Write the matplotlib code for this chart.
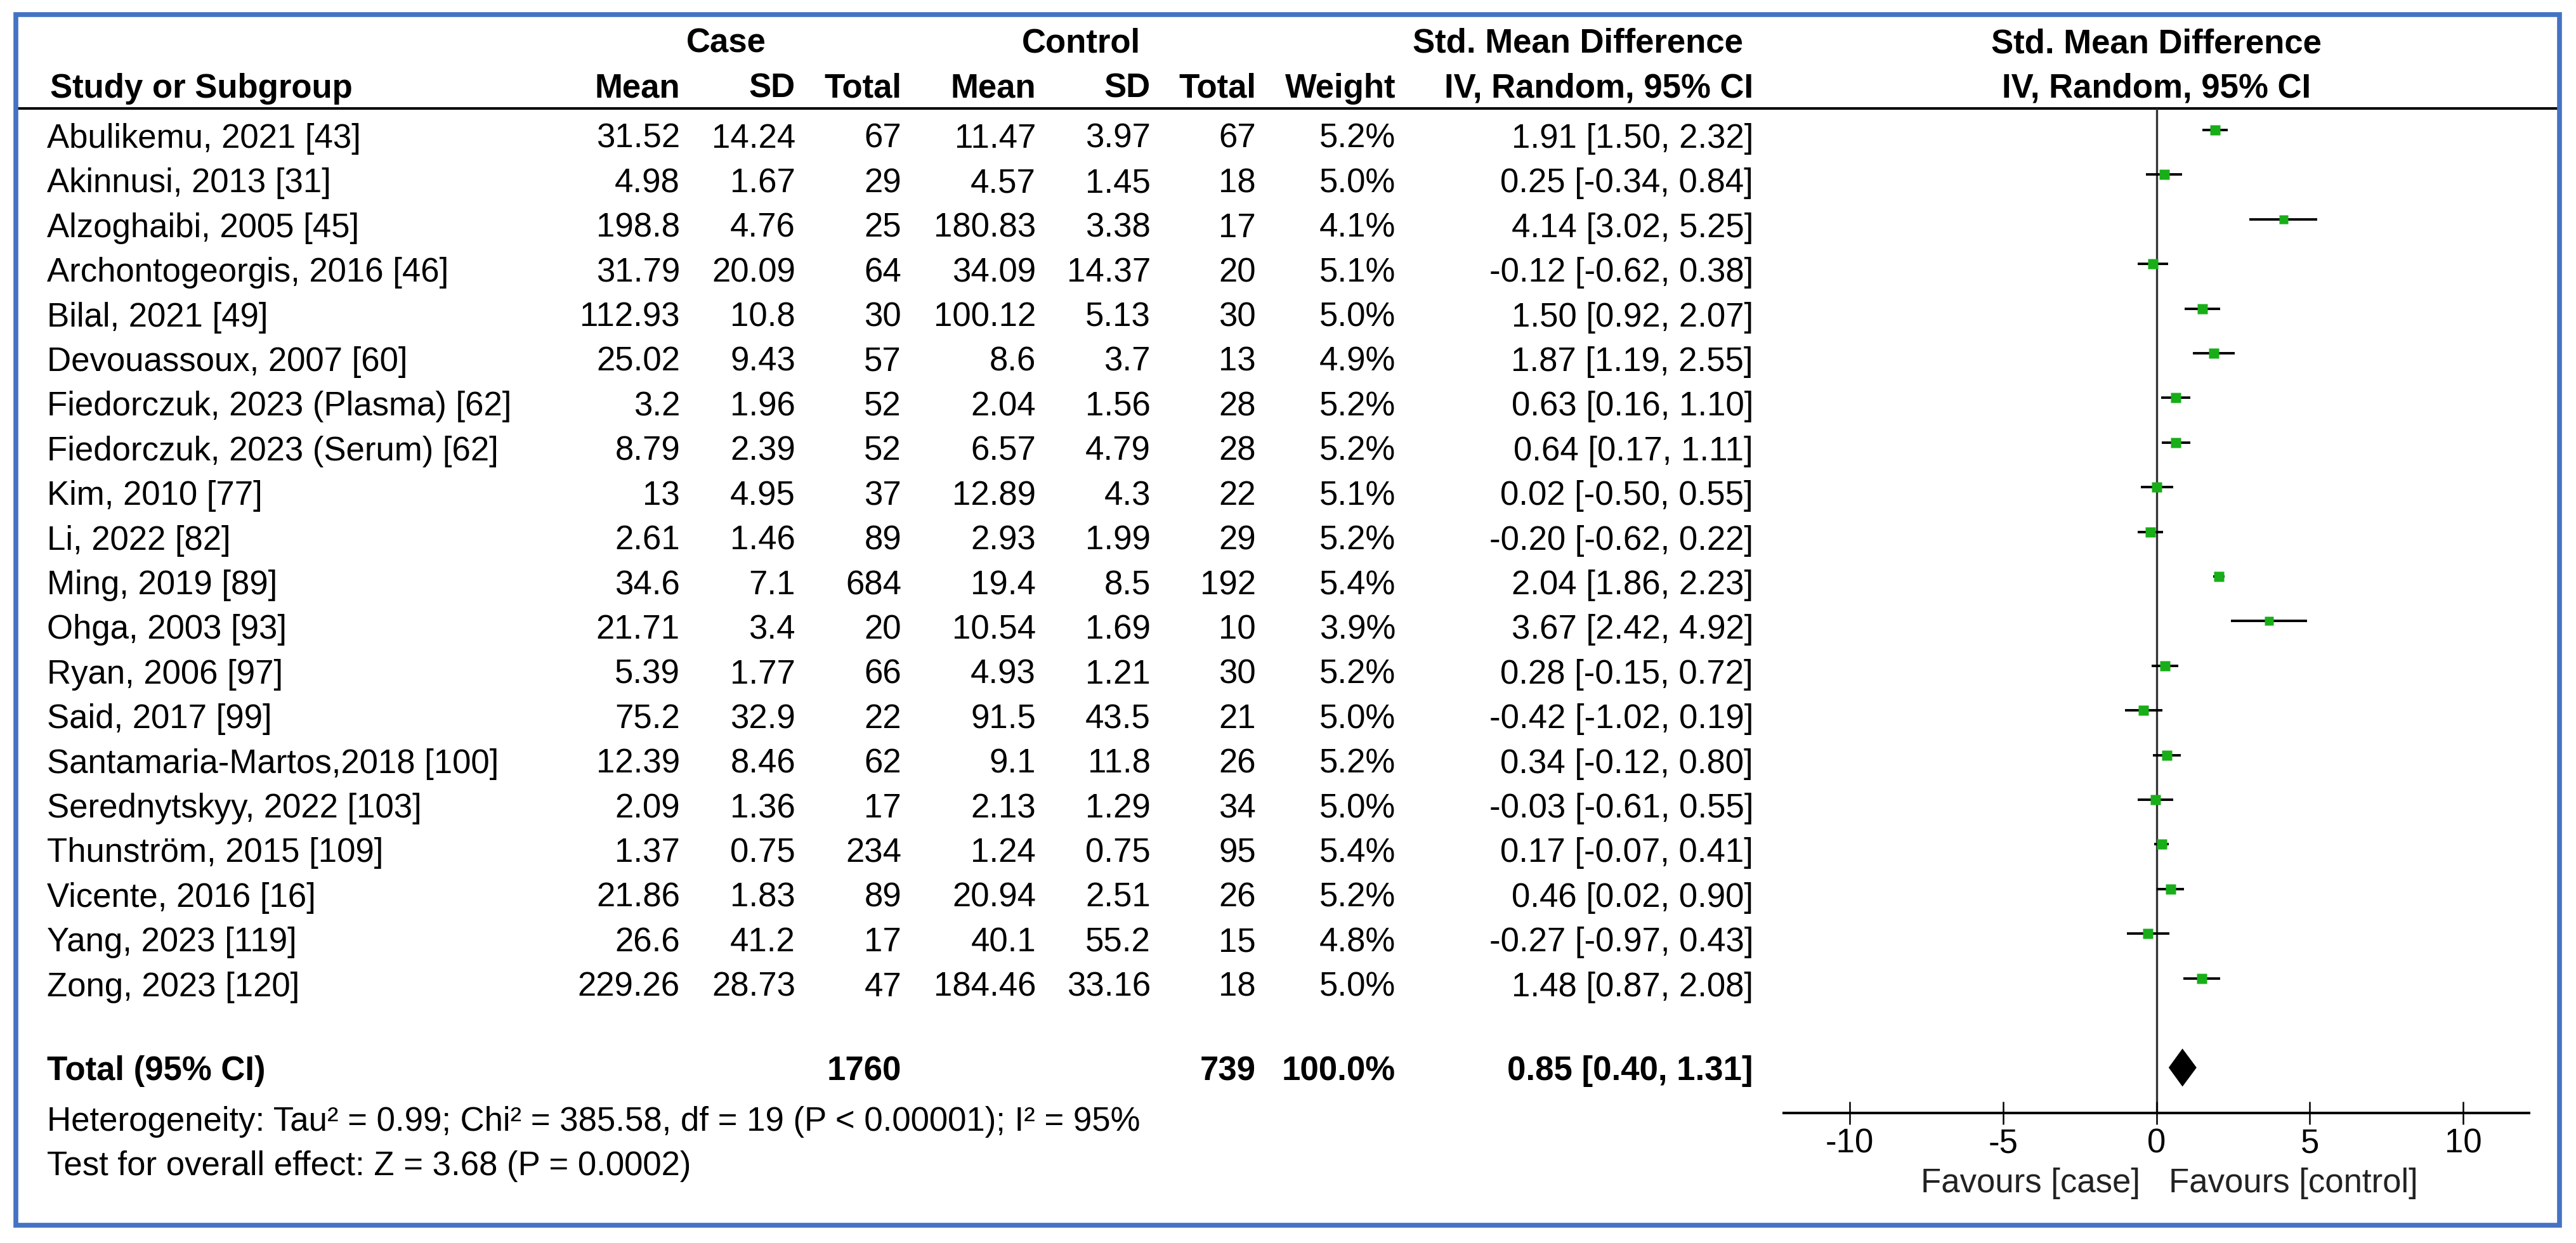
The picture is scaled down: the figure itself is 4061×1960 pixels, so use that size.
"""Forest plot: standardised mean difference, case vs control (RevMan style)."""

import math

import matplotlib.pyplot as plt
from matplotlib.patches import Rectangle

STUDIES = [
    "Abulikemu, 2021 [43]",
    "Akinnusi, 2013 [31]",
    "Alzoghaibi, 2005 [45]",
    "Archontogeorgis, 2016 [46]",
    "Bilal, 2021 [49]",
    "Devouassoux, 2007 [60]",
    "Fiedorczuk, 2023 (Plasma) [62]",
    "Fiedorczuk, 2023 (Serum) [62]",
    "Kim, 2010 [77]",
    "Li, 2022 [82]",
    "Ming, 2019 [89]",
    "Ohga, 2003 [93]",
    "Ryan, 2006 [97]",
    "Said, 2017 [99]",
    "Santamaria-Martos,2018 [100]",
    "Serednytskyy, 2022 [103]",
    "Thunström, 2015 [109]",
    "Vicente, 2016 [16]",
    "Yang, 2023 [119]",
    "Zong, 2023 [120]",
]
CASE_MEAN = ["31.52", "4.98", "198.8", "31.79", "112.93", "25.02", "3.2", "8.79", "13", "2.61",
             "34.6", "21.71", "5.39", "75.2", "12.39", "2.09", "1.37", "21.86", "26.6", "229.26"]
CASE_SD = ["14.24", "1.67", "4.76", "20.09", "10.8", "9.43", "1.96", "2.39", "4.95", "1.46",
           "7.1", "3.4", "1.77", "32.9", "8.46", "1.36", "0.75", "1.83", "41.2", "28.73"]
CASE_N = [67, 29, 25, 64, 30, 57, 52, 52, 37, 89, 684, 20, 66, 22, 62, 17, 234, 89, 17, 47]
CTRL_MEAN = ["11.47", "4.57", "180.83", "34.09", "100.12", "8.6", "2.04", "6.57", "12.89", "2.93",
             "19.4", "10.54", "4.93", "91.5", "9.1", "2.13", "1.24", "20.94", "40.1", "184.46"]
CTRL_SD = ["3.97", "1.45", "3.38", "14.37", "5.13", "3.7", "1.56", "4.79", "4.3", "1.99",
           "8.5", "1.69", "1.21", "43.5", "11.8", "1.29", "0.75", "2.51", "55.2", "33.16"]
CTRL_N = [67, 18, 17, 20, 30, 13, 28, 28, 22, 29, 192, 10, 30, 21, 26, 34, 95, 26, 15, 18]
WEIGHT = [5.2, 5.0, 4.1, 5.1, 5.0, 4.9, 5.2, 5.2, 5.1, 5.2, 5.4, 3.9, 5.2, 5.0, 5.2, 5.0, 5.4, 5.2, 4.8, 5.0]
SMD = [1.91, 0.25, 4.14, -0.12, 1.50, 1.87, 0.63, 0.64, 0.02, -0.20,
       2.04, 3.67, 0.28, -0.42, 0.34, -0.03, 0.17, 0.46, -0.27, 1.48]
CI_LO = [1.50, -0.34, 3.02, -0.62, 0.92, 1.19, 0.16, 0.17, -0.50, -0.62,
         1.86, 2.42, -0.15, -1.02, -0.12, -0.61, -0.07, 0.02, -0.97, 0.87]
CI_HI = [2.32, 0.84, 5.25, 0.38, 2.07, 2.55, 1.10, 1.11, 0.55, 0.22,
         2.23, 4.92, 0.72, 0.19, 0.80, 0.55, 0.41, 0.90, 0.43, 2.08]

TOTAL_WEIGHT = "100.0%"
POOLED = (0.85, 0.40, 1.31)
HETEROGENEITY = "Heterogeneity: Tau² = 0.99; Chi² = 385.58, df = 19 (P < 0.00001); I² = 95%"
OVERALL = "Test for overall effect: Z = 3.68 (P = 0.0002)"

X_TICKS = [-10, -5, 0, 5, 10]
X_TICK_LABELS = ["-10", "-5", "0", "5", "10"]

W, H = 4062, 1960
ROW0, ROW_H = 205, 70.4
FS = 38
BLUE = "#4472C4"
GREEN = "#18AE18"


def row_of(py):
    return (py - ROW0) / ROW_H


def main():
    plt.rcParams["font.family"] = ["Liberation Sans", "DejaVu Sans"]
    plt.rcParams["font.size"] = FS

    fig = plt.figure(figsize=(W / 100, H / 100), dpi=100)
    fig.patch.set_facecolor("white")

    # background axes: x in pixels, y in table rows
    tab = fig.add_axes([0, 0, 1, 1])
    tab.set_xlim(0, W)
    tab.set_ylim(row_of(H), row_of(0))
    tab.axis("off")

    tab.add_patch(Rectangle((25, row_of(23)), 4035 - 25, row_of(1932) - row_of(23),
                            fill=False, edgecolor=BLUE, linewidth=5.5, zorder=5))
    tab.plot([25, 4035], [row_of(171)] * 2, color="black", lw=2.9, solid_capstyle="butt")

    # header
    h1, h2 = row_of(83), row_of(154)
    bold = dict(fontweight="bold", va="baseline")
    tab.text(1145, h1, "Case", ha="center", **bold)
    tab.text(1704, h1, "Control", ha="center", **bold)
    tab.text(2487, h1, "Std. Mean Difference", ha="center", **bold)
    tab.text(79, h2, "Study or Subgroup", ha="left", **bold)
    col_x = [1072, 1254, 1421, 1633, 1814, 1980, 2200, 2764]
    col_names = ["Mean", "SD", "Total", "Mean", "SD", "Total", "Weight", "IV, Random, 95% CI"]
    for x, name in zip(col_x, col_names):
        tab.text(x, h2, name, ha="right", **bold)

    # study rows
    base = 28 / ROW_H
    for i, study in enumerate(STUDIES):
        y = i + base
        cells = [CASE_MEAN[i], CASE_SD[i], str(CASE_N[i]), CTRL_MEAN[i], CTRL_SD[i], str(CTRL_N[i]),
                 f"{WEIGHT[i]:.1f}%", f"{SMD[i]:.2f} [{CI_LO[i]:.2f}, {CI_HI[i]:.2f}]"]
        tab.text(74, y, study, ha="left", va="baseline")
        for x, cell in zip(col_x, cells):
            tab.text(x, y, cell, ha="right", va="baseline")

    # total row
    yt = row_of(1703)
    tab.text(74, yt, "Total (95% CI)", ha="left", **bold)
    tab.text(col_x[2], yt, str(sum(CASE_N)), ha="right", **bold)
    tab.text(col_x[5], yt, str(sum(CTRL_N)), ha="right", **bold)
    tab.text(col_x[6], yt, TOTAL_WEIGHT, ha="right", **bold)
    tab.text(col_x[7], yt, f"{POOLED[0]:.2f} [{POOLED[1]:.2f}, {POOLED[2]:.2f}]", ha="right", **bold)
    tab.text(74, row_of(1783), HETEROGENEITY, ha="left", va="baseline")
    tab.text(74, row_of(1853), OVERALL, ha="left", va="baseline")

    # forest panel
    ax = fig.add_axes([2812 / W, (H - 1755) / H, (3987 - 2812) / W, (1755 - 171) / H])
    ax.set_facecolor("none")
    ax.set_xlim(-12.15, 12.15)
    ax.set_ylim(row_of(1755), row_of(171))
    for side in ("top", "left", "right"):
        ax.spines[side].set_visible(False)
    ax.spines["bottom"].set_linewidth(2.9)
    ax.set_yticks([])
    ax.set_xticks(X_TICKS)
    ax.set_xticklabels(X_TICK_LABELS)
    ax.tick_params(axis="x", direction="inout", length=26, width=1.8, pad=4, labelsize=FS)

    ax.axvline(0, color="#333333", lw=2.4, zorder=1)
    for i in range(len(STUDIES)):
        ax.plot([CI_LO[i], CI_HI[i]], [i, i], color="black", lw=2.8, solid_capstyle="butt", zorder=2)
        ax.plot(SMD[i], i, marker="s", ms=7.0 * math.sqrt(WEIGHT[i]) * 0.72,
                color=GREEN, mec="none", zorder=3)

    ty = len(STUDIES) + 1
    half = 30 / ROW_H
    est, lo, hi = POOLED
    ax.fill([lo, est, hi, est], [ty, ty - half, ty, ty + half], color="black", lw=0, zorder=3)

    ax.text(0, h1, "Std. Mean Difference", ha="center", clip_on=False, **bold)
    ax.text(0, h2, "IV, Random, 95% CI", ha="center", clip_on=False, **bold)
    ax.text(-0.52, row_of(1880), "Favours [case]", ha="right", va="baseline", color="#222222", clip_on=False)
    ax.text(0.41, row_of(1880), "Favours [control]", ha="left", va="baseline", color="#222222", clip_on=False)

    fig.savefig("out.png", dpi=100, facecolor="white")
    plt.close(fig)


if __name__ == "__main__":
    main()
